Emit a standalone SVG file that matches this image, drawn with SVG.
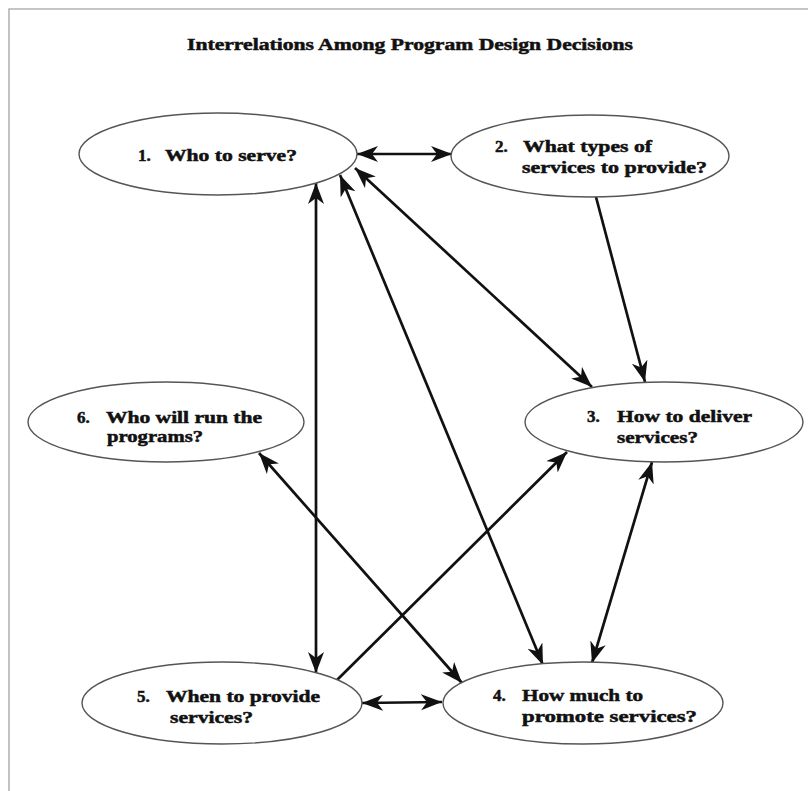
<svg xmlns="http://www.w3.org/2000/svg" width="808" height="791" viewBox="0 0 808 791">
<style>
.frame{stroke:#b4b4b4;stroke-width:1.6;fill:none}
.node{fill:#fff;stroke:#555;stroke-width:1.4}
.t{font-family:"Liberation Serif","Times New Roman",serif;font-weight:bold;font-size:17px;fill:#111;stroke:#111;stroke-width:0.5}
.title{font-family:"Liberation Serif","Times New Roman",serif;font-weight:bold;font-size:17px;fill:#111;stroke:#111;stroke-width:0.5}
.edge{stroke:#111;stroke-width:2.7;fill:none}
.bi{marker-start:url(#ah);marker-end:url(#ah)}
.uni{marker-end:url(#ah)}
</style>
<defs>
<marker id="ah" markerUnits="userSpaceOnUse" markerWidth="24" markerHeight="18" refX="21" refY="8" orient="auto-start-reverse" viewBox="0 0 24 18">
<path d="M0,0 L21,8 L0,16 L6,8 Z" fill="#111"/>
</marker>
</defs>
<rect width="808" height="791" fill="#fff"/>
<path class="frame" d="M9,791 L9,9 L808,9"/>
<text class="title" x="187" y="50" textLength="446" lengthAdjust="spacingAndGlyphs">Interrelations Among Program Design Decisions</text>

<g id="connectors">
<line class="edge bi" x1="357" y1="154" x2="452" y2="154"/>
<line class="edge uni" x1="596" y1="197" x2="645" y2="382"/>
<line class="edge bi" x1="355" y1="168" x2="592" y2="387"/>
<line class="edge bi" x1="340" y1="175" x2="543" y2="665"/>
<line class="edge bi" x1="316" y1="183" x2="316" y2="673"/>
<line class="edge bi" x1="259" y1="453" x2="462" y2="683"/>
<line class="edge uni" x1="337" y1="680" x2="567" y2="452"/>
<line class="edge bi" x1="652" y1="462" x2="592" y2="663"/>
<line class="edge bi" x1="362" y1="703" x2="442" y2="702"/>
</g>

<g id="node1">
<ellipse class="node" cx="218" cy="154" rx="139" ry="41"/>
<text class="t" x="138" y="161">1.</text>
<text class="t" x="165" y="161" textLength="132" lengthAdjust="spacingAndGlyphs">Who to serve?</text>
</g>

<g id="node2">
<ellipse class="node" cx="590" cy="156" rx="139" ry="41"/>
<text class="t" x="495" y="152">2.</text>
<text class="t" x="523" y="152" textLength="129" lengthAdjust="spacingAndGlyphs">What types of</text>
<text class="t" x="522" y="173" textLength="185" lengthAdjust="spacingAndGlyphs">services to provide?</text>
</g>

<g id="node3">
<ellipse class="node" cx="664" cy="422" rx="139" ry="40"/>
<text class="t" x="587" y="422">3.</text>
<text class="t" x="617" y="422" textLength="135" lengthAdjust="spacingAndGlyphs">How to deliver</text>
<text class="t" x="617" y="443" textLength="81" lengthAdjust="spacingAndGlyphs">services?</text>
</g>

<g id="node4">
<ellipse class="node" cx="583" cy="703" rx="140" ry="41"/>
<text class="t" x="493" y="701">4.</text>
<text class="t" x="522" y="701" textLength="121" lengthAdjust="spacingAndGlyphs">How much to</text>
<text class="t" x="522" y="722" textLength="175" lengthAdjust="spacingAndGlyphs">promote services?</text>
</g>

<g id="node5">
<ellipse class="node" cx="222" cy="703" rx="140" ry="41"/>
<text class="t" x="137" y="702">5.</text>
<text class="t" x="166" y="702" textLength="154" lengthAdjust="spacingAndGlyphs">When to provide</text>
<text class="t" x="170" y="723" textLength="83" lengthAdjust="spacingAndGlyphs">services?</text>
</g>

<g id="node6">
<ellipse class="node" cx="166" cy="422" rx="138" ry="40"/>
<text class="t" x="77" y="423">6.</text>
<text class="t" x="106" y="423" textLength="156" lengthAdjust="spacingAndGlyphs">Who will run the</text>
<text class="t" x="107" y="442" textLength="96" lengthAdjust="spacingAndGlyphs">programs?</text>
</g>
</svg>
